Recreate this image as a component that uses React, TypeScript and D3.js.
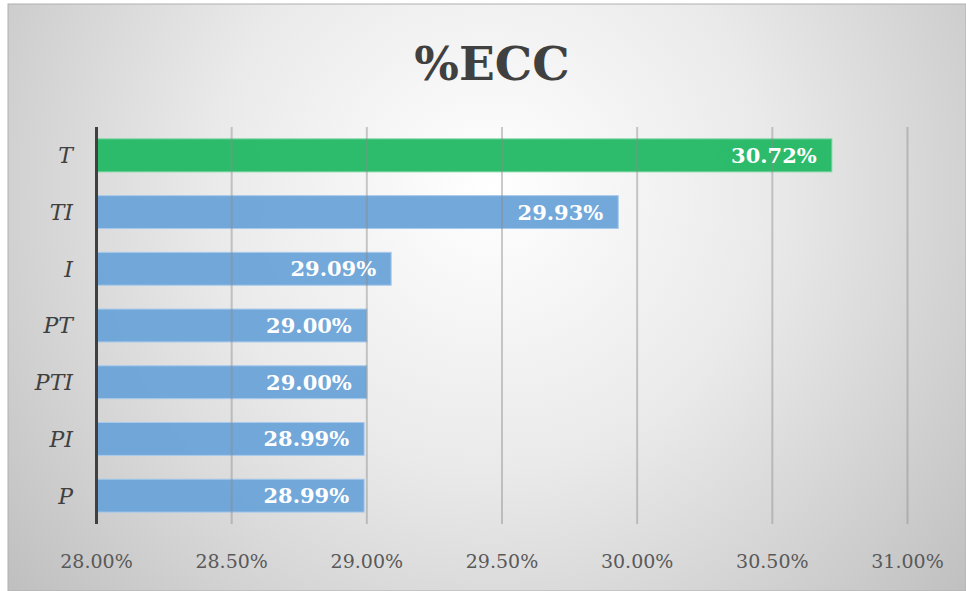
import React, { useEffect, useRef } from "react";
import * as d3 from "d3";

// chart data
const categories = ["T", "TI", "I", "PT", "PTI", "PI", "P"];
const values = [30.72, 29.93, 29.09, 29.0, 29.0, 28.99, 28.99];
const valueLabels = ["30.72%", "29.93%", "29.09%", "29.00%", "29.00%", "28.99%", "28.99%"];
const tickValues = [28.0, 28.5, 29.0, 29.5, 30.0, 30.5, 31.0];
const tickLabels = ["28.00%", "28.50%", "29.00%", "29.50%", "30.00%", "30.50%", "31.00%"];
const highlight = "T";

const App = () => {
    const ref = useRef<SVGSVGElement>(null);
    const width = 966;
    const height = 591;

    useEffect(() => {
        const svg = d3.select(ref.current);
        svg.selectAll("*").remove();

        const font = "\"DejaVu Serif\", \"Liberation Serif\", serif";
        const plot = { left: 96.5, right: 907.5, top: 127, bottom: 524 };

        // background with radial shading
        const defs = svg.append("defs");
        const grad = defs
            .append("radialGradient")
            .attr("id", "bg")
            .attr("gradientUnits", "userSpaceOnUse")
            .attr("cx", 490)
            .attr("cy", 190)
            .attr("r", 620);
        grad.append("stop").attr("offset", "0%").attr("stop-color", "#ffffff");
        grad.append("stop").attr("offset", "45%").attr("stop-color", "#eaeaea");
        grad.append("stop").attr("offset", "100%").attr("stop-color", "#c0c0c0");

        svg.append("rect")
            .attr("x", 8)
            .attr("y", 4)
            .attr("width", width - 8)
            .attr("height", height - 4)
            .attr("fill", "url(#bg)")
            .attr("stroke", "#b0b0b0")
            .attr("stroke-width", 1);

        const x = d3.scaleLinear().domain([28, 31]).range([plot.left, plot.right]);
        const y = d3
            .scaleBand()
            .domain(categories)
            .range([plot.top, plot.bottom])
            .paddingInner(0.42)
            .paddingOuter(0.21);

        // title
        svg.append("text")
            .attr("x", 492)
            .attr("y", 80)
            .attr("text-anchor", "middle")
            .style("font-family", font)
            .style("font-weight", "bold")
            .style("font-size", "47px")
            .style("fill", "#404040")
            .text("%ECC");

        // bars
        svg.append("g")
            .selectAll("rect")
            .data(categories)
            .join("rect")
            .attr("x", x(28))
            .attr("y", (d) => y(d)!)
            .attr("width", (d, i) => x(values[i]) - x(28))
            .attr("height", y.bandwidth())
            .attr("fill", (d) => (d === highlight ? "#22b863" : "#6aa3d8"))
            .attr("fill-opacity", 0.95)
            .attr("stroke", (d) => (d === highlight ? "#6fd39a" : "#a8caeb"))
            .attr("stroke-width", 1);

        // vertical gridlines
        svg.append("g")
            .selectAll("line")
            .data(tickValues.slice(1))
            .join("line")
            .attr("x1", (d) => x(d))
            .attr("x2", (d) => x(d))
            .attr("y1", plot.top)
            .attr("y2", plot.bottom)
            .attr("stroke", "#8c8c8c")
            .attr("stroke-opacity", 0.45)
            .attr("stroke-width", 2);

        // axis line
        svg.append("line")
            .attr("x1", x(28))
            .attr("x2", x(28))
            .attr("y1", plot.top)
            .attr("y2", plot.bottom)
            .attr("stroke", "#404040")
            .attr("stroke-width", 3);

        // value labels
        svg.append("g")
            .selectAll("text")
            .data(categories)
            .join("text")
            .attr("x", (d, i) => x(values[i]) - 15)
            .attr("y", (d) => y(d)! + y.bandwidth() / 2)
            .attr("dy", "0.36em")
            .attr("text-anchor", "end")
            .style("font-family", font)
            .style("font-weight", "bold")
            .style("font-size", "21px")
            .style("fill", "#ffffff")
            .text((d, i) => valueLabels[i]);

        // category labels
        svg.append("g")
            .selectAll("text")
            .data(categories)
            .join("text")
            .attr("x", 73)
            .attr("y", (d) => y(d)! + y.bandwidth() / 2)
            .attr("dy", "0.36em")
            .attr("text-anchor", "end")
            .style("font-family", font)
            .style("font-style", "italic")
            .style("font-size", "22px")
            .style("fill", "#404040")
            .text((d) => d);

        // tick labels
        svg.append("g")
            .selectAll("text")
            .data(tickValues)
            .join("text")
            .attr("x", (d) => x(d))
            .attr("y", 568)
            .attr("text-anchor", "middle")
            .style("font-family", font)
            .style("font-size", "19px")
            .style("fill", "#595959")
            .text((d, i) => tickLabels[i]);
    }, []);

    return (
        <svg
            ref={ref}
            width={width}
            height={height}
            style={{ position: "absolute", left: 0, top: 0, background: "#ffffff" }}
        ></svg>
    );
};

export default App;
